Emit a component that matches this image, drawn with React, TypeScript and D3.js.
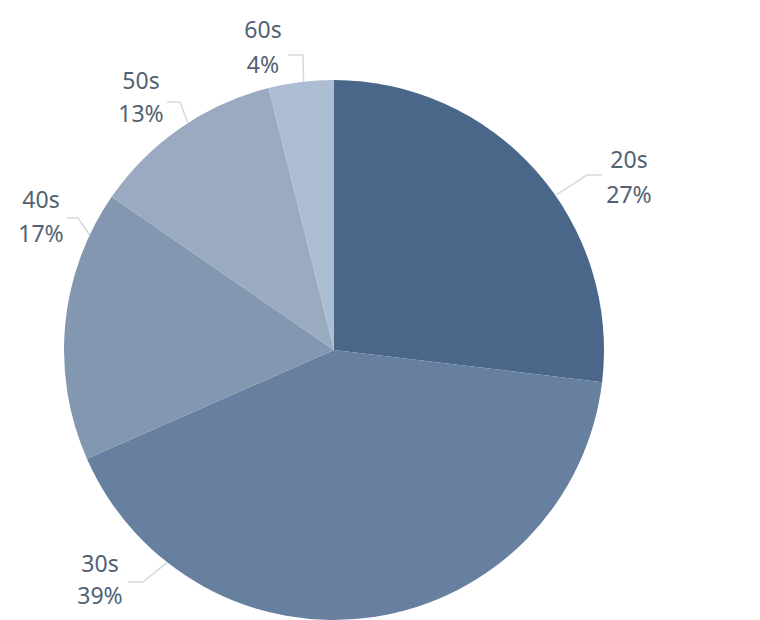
import * as d3 from "d3";

const ageGroups = ["20s", "30s", "40s", "50s", "60s"];
// slice sizes as drawn (share of the circle, %)
const shares = [26.9, 41.5, 16.2, 11.5, 3.9];
// percentages printed on the labels
const percentLabels = ["27%", "39%", "17%", "13%", "4%"];

const colors = ["#4a6689", "#67809f", "#8397b1", "#9aabc1", "#adbdd3"];

// leader line placement, relative to the pie centre:
// at = where the line leaves the rim (fraction of the turn),
// elbow = bend point, end = x of the horizontal tail, cx = label centre x
const labelLayout = [
  { at: 0.153, elbow: [253, -175], end: 268, cx: 295, dy1: -7, dy2: 28 },
  { at: 0.606, elbow: [-191, 232], end: -206, cx: -234, dy1: -10, dy2: 22 },
  { at: 0.82, elbow: [-256, -132], end: -267, cx: -293, dy1: -10, dy2: 24 },
  { at: 0.909, elbow: [-154, -248], end: -167, cx: -193, dy1: -13, dy2: 20 },
  { at: 0.982, elbow: [-31, -295], end: -46, cx: -71, dy1: -17, dy2: 18 },
];

const width = 760;
const height = 620;
const cx = 334;
const cy = 350;
const radius = 270;

export default function App() {
  const pie = d3
    .pie<number>()
    .sort(null)
    .value((d) => d);
  const arcs = pie(shares);
  const arc = d3.arc<d3.PieArcDatum<number>>().innerRadius(0).outerRadius(radius);

  return (
    <svg
      width={width}
      height={height}
      viewBox={`0 0 ${width} ${height}`}
      style={{ position: "absolute", left: 0, top: 0, background: "#fff" }}
    >
      <g transform={`translate(${cx},${cy})`}>
        {arcs.map((a, i) => (
          <path key={ageGroups[i]} d={arc(a) || ""} fill={colors[i]} />
        ))}
        {labelLayout.map((l, i) => {
          const ang = l.at * 2 * Math.PI;
          const sx = radius * Math.sin(ang);
          const sy = -radius * Math.cos(ang);
          const [ex, ey] = l.elbow;
          return (
            <g key={"lbl" + i}>
              <polyline
                points={`${sx},${sy} ${ex},${ey} ${l.end},${ey}`}
                fill="none"
                stroke="#d3dadf"
                strokeWidth={1.5}
              />
              <text
                x={l.cx}
                textAnchor="middle"
                fill="#526273"
                style={{ fontFamily: "'Noto Sans', sans-serif", fontSize: 23 }}
              >
                <tspan x={l.cx} y={ey + l.dy1}>
                  {ageGroups[i]}
                </tspan>
                <tspan x={l.cx} y={ey + l.dy2}>
                  {percentLabels[i]}
                </tspan>
              </text>
            </g>
          );
        })}
      </g>
    </svg>
  );
}
